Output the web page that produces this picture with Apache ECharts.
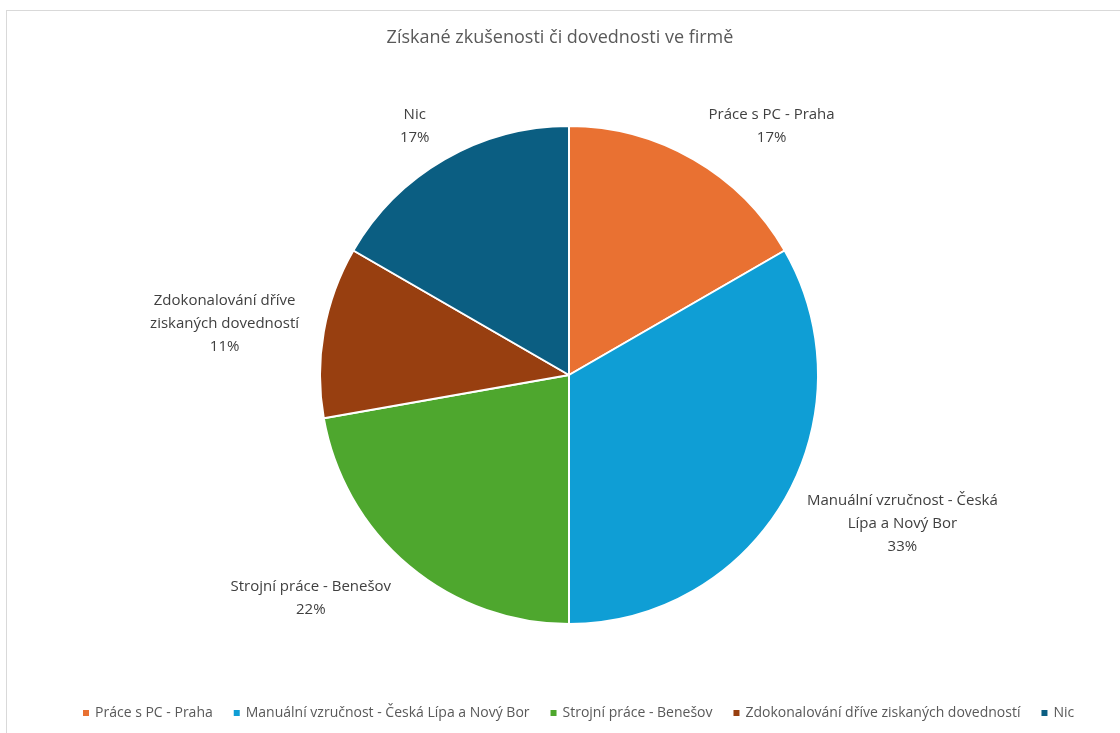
<!DOCTYPE html>
<html>
<head>
<meta charset="utf-8">
<script src="https://cdn.jsdelivr.net/npm/echarts@6/dist/echarts.min.js"></script>
<style>
  html, body { margin: 0; padding: 0; background: #fff; }
  #frame { position: absolute; left: 6px; top: 10px; width: 1120px; height: 730px; border: 1px solid #d9d9d9; box-sizing: border-box; }
  #chart { position: absolute; left: 0; top: 0; width: 1120px; height: 733px; }
</style>
</head>
<body>
<div id="frame"></div>
<div id="chart"></div>
<script>
// Responses: what was gained in the company
const categories = [
  'Práce s PC - Praha',
  'Manuální vzručnost - Česká Lípa a Nový Bor',
  'Strojní práce - Benešov',
  'Zdokonalování dříve ziskaných dovedností',
  'Nic'
];
const counts = [3, 6, 4, 2, 3];
const labelNames = [
  'Práce s PC - Praha',
  'Manuální vzručnost - Česká\nLípa a Nový Bor',
  'Strojní práce - Benešov',
  'Zdokonalování dříve\nziskaných dovedností',
  'Nic'
];
const colors = ['#E97132', '#0F9ED5', '#4EA72E', '#983F10', '#0B5E82'];

const chart = echarts.init(document.getElementById('chart'), null, { renderer: 'canvas' });
const font = '"Open Sans", "Noto Sans", sans-serif';

// extra vertical distance of each data label from its default outside spot
const labelNudge = [-16, 14, 17, -5, -16];

chart.setOption({
  animation: false,
  color: colors,
  title: {
    text: 'Získané zkušenosti či dovednosti ve firmě',
    left: 'center',
    top: 24,
    textStyle: { fontFamily: font, fontSize: 18, fontWeight: 'normal', color: '#595959' }
  },
  legend: {
    bottom: 8,
    left: 76,
    itemWidth: 8,
    itemHeight: 8,
    itemGap: 19,
    icon: 'rect',
    textStyle: { fontFamily: font, fontSize: 14, color: '#595959' },
    data: categories
  },
  series: [{
    type: 'pie',
    center: [569, 375],
    radius: [0, 249],
    startAngle: 90,
    clockwise: true,
    itemStyle: { borderColor: '#fff', borderWidth: 2 },
    label: {
      show: true,
      position: 'outside',
      fontFamily: font,
      fontSize: 15,
      lineHeight: 23,
      color: '#404040',
      formatter: p => labelNames[p.dataIndex] + '\n' + Math.round(p.percent) + '%'
    },
    labelLine: { show: false, length: 20, length2: 0 },
    labelLayout: p => {
      const r = p.labelRect;
      return {
        x: r.x + r.width / 2,
        y: r.y + labelNudge[p.dataIndex],
        align: 'center',
        verticalAlign: 'top'
      };
    },
    data: categories.map((c, i) => ({ name: c, value: counts[i] }))
  }]
});
</script>
</body>
</html>
